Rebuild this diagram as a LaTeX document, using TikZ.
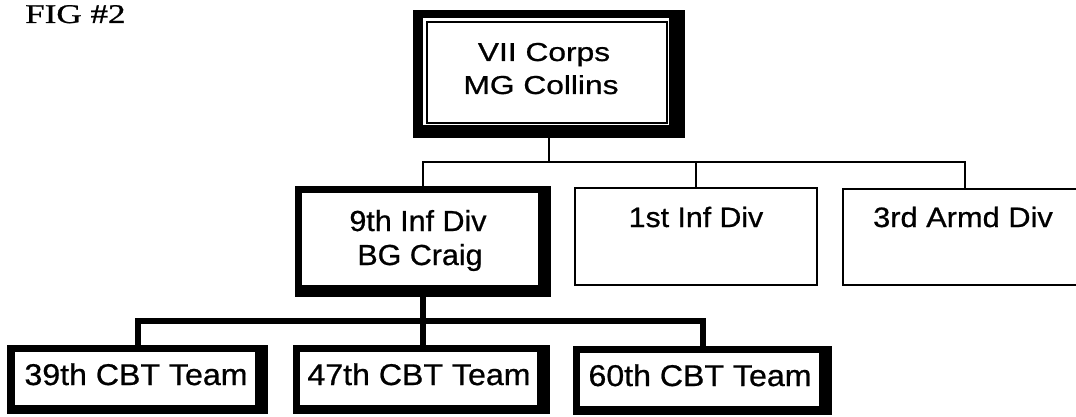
\documentclass[tikz,border=0pt]{standalone}
\usepackage{fontspec}
\usepackage{graphicx}
\setmainfont{Liberation Sans}[FakeBold=0.7]
\newfontfamily\figserif{Liberation Serif}[FakeBold=0.8]
\usetikzlibrary{calc}
\tikzset{
  frame/.style={fill=black, draw=none, inner sep=0pt, outer sep=0pt},
  whitebox/.style={fill=white, draw=none, inner sep=0pt, outer sep=0pt},
  thinbox/.style={draw=black, line width=2.2pt, fill=white, inner sep=0pt, outer sep=0pt},
  corpsline/.style={draw=black, line width=1.5pt, fill=white, inner sep=0pt, outer sep=0pt},
  lbl/.style={anchor=base, inner sep=0pt, font=\fontsize{28}{34}\selectfont},
  divlbl/.style={anchor=base, inner sep=0pt, font=\fontsize{29}{34}\selectfont},
  teamlbl/.style={anchor=base, inner sep=0pt, font=\fontsize{30}{34}\selectfont},
  toplbl/.style={anchor=base, inner sep=0pt, font=\fontsize{26}{32}\selectfont},
  thinconn/.style={draw=black, line width=2.5pt},
  thickconn/.style={draw=black, line width=6pt},
}
\newcommand{\hsx}[2]{\scalebox{#1}[1]{#2}}
\begin{document}
\begin{tikzpicture}[x=1pt,y=-1pt]
\useasboundingbox (0,0) rectangle (1076,417);

% title
\node[anchor=base west, inner sep=0pt] (fig) at (25,23) {\figserif\fontsize{27}{30}\selectfont\hsx{1.3}{FIG \#2}};

% boxes (geometry)
\node[frame, minimum width=272pt, minimum height=128pt] (corps) at (549,74) {};
\node[whitebox, minimum width=246pt, minimum height=107pt] (corpsw) at (546,71.5) {};
\node[corpsline, minimum width=240pt, minimum height=101pt] (corpsin) at (547,72.5) {};

\node[frame, minimum width=256pt, minimum height=111pt] (div9) at (423,241.5) {};
\node[whitebox, minimum width=236pt, minimum height=92pt] (div9in) at (420,239) {};

\node[thinbox, minimum width=242pt, minimum height=97pt] (div1) at (696,236.5) {};
\node[thinbox, minimum width=244pt, minimum height=96pt] (div3) at (965,237) {};

\node[frame, minimum width=261pt, minimum height=69pt] (team39) at (137.5,379.5) {};
\node[whitebox, minimum width=240pt, minimum height=53pt] (team39in) at (135,378.5) {};
\node[frame, minimum width=257pt, minimum height=69pt] (team47) at (421.5,379.5) {};
\node[whitebox, minimum width=237pt, minimum height=53pt] (team47in) at (418.5,378.5) {};
\node[frame, minimum width=259pt, minimum height=69pt] (team60) at (702.5,380.5) {};
\node[whitebox, minimum width=239pt, minimum height=53pt] (team60in) at (699.5,379.5) {};

% connectors
\coordinate (bus1) at (550,162);
\draw[thinconn] (corps.south) -- (corps.south |- bus1);
\draw[thinconn] (div9.north) |- (bus1) -| (div3.north);
\draw[thinconn] (div1.north) -- (div1.north |- bus1);

\coordinate (bus2) at (422,321);
\draw[thickconn] (div9.south) -- (div9.south |- team47.north);
\draw[thickconn] (team39.north) |- (bus2) -| (team60.north);

% texts
\node[toplbl] (t1a) at (544,61) {\hsx{1.22}{VII Corps}};
\node[toplbl] (t1b) at (541,94) {\hsx{1.22}{MG Collins}};
\node[divlbl] (t2a) at (418,231) {\hsx{1.05}{9th Inf Div}};
\node[divlbl] (t2b) at (420,265) {\hsx{1.05}{BG Craig}};
\node[lbl] (t3) at (696,227) {\hsx{1.08}{1st Inf Div}};
\node[lbl] (t4) at (963,227) {\hsx{1.1}{3rd Armd Div}};
\node[teamlbl] (t5) at (136,385) {\hsx{1.07}{39th CBT Team}};
\node[teamlbl] (t6) at (419,385) {\hsx{1.07}{47th CBT Team}};
\node[teamlbl] (t7) at (700,386) {\hsx{1.07}{60th CBT Team}};
\end{tikzpicture}
\end{document}
